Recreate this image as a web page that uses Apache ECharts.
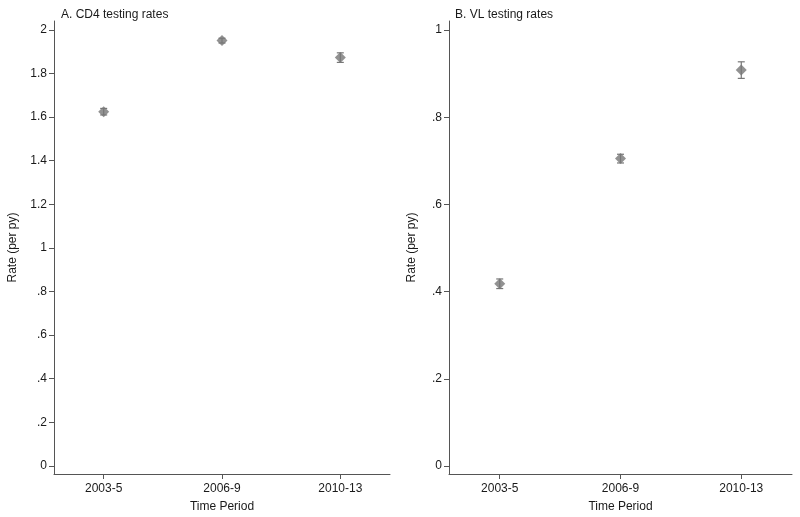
<!DOCTYPE html>
<html>
<head>
<meta charset="utf-8">
<script src="https://cdn.jsdelivr.net/npm/echarts@6/dist/echarts.min.js"></script>
<style>
  html, body { margin: 0; padding: 0; background: #fff; }
  #chart { width: 800px; height: 517px; }
</style>
</head>
<body>
<div id="chart"></div>
<script>
// categories (x positions 1,2,3)
var periods = ["2003-5", "2006-9", "2010-13"];

// A. CD4 testing rates (per py) with 95% CI
var cd4Rate = [1.625, 1.951, 1.873];
var cd4Low = [1.610, 1.940, 1.851];
var cd4High = [1.640, 1.962, 1.895];

// B. VL testing rates (per py) with 95% CI
var vlRate = [0.418, 0.705, 0.908];
var vlLow = [0.407, 0.695, 0.889];
var vlHigh = [0.429, 0.715, 0.927];

// tick labels
var cd4Ticks = [0, 0.2, 0.4, 0.6, 0.8, 1, 1.2, 1.4, 1.6, 1.8, 2];
var vlTicks = [0, 0.2, 0.4, 0.6, 0.8, 1];
var xTicks = [1, 2, 3];

var fontFamily = '"Liberation Sans", Arial, Helvetica, sans-serif';
var axisColor = "#555";
var textColor = "#1a1a1a";
var markColor = "#777";

function fmtY(v) {
    var s = String(+v.toFixed(1));
    return s.replace(/^0\./, ".");
}

function points(vals) {
    return vals.map(function (v, i) { return [i + 1, v]; });
}

function bars(lo, hi) {
    return lo.map(function (v, i) { return [i + 1, v, hi[i]]; });
}

function errorBar(params, api) {
    var x = api.value(0);
    var p1 = api.coord([x, api.value(1)]);
    var p2 = api.coord([x, api.value(2)]);
    var hw = 3.5;
    var st = { stroke: markColor, lineWidth: 1.2 };
    return {
        type: "group",
        children: [
            { type: "line", shape: { x1: p1[0], y1: p1[1], x2: p2[0], y2: p2[1] }, style: st },
            { type: "line", shape: { x1: p1[0] - hw, y1: p1[1], x2: p1[0] + hw, y2: p1[1] }, style: st },
            { type: "line", shape: { x1: p2[0] - hw, y1: p2[1], x2: p2[0] + hw, y2: p2[1] }, style: st }
        ]
    };
}

function xAxis(idx) {
    return {
        type: "value",
        gridIndex: idx,
        min: 0.58,
        max: 3.42,
        name: "Time Period",
        nameLocation: "middle",
        nameGap: 27,
        nameTextStyle: { color: textColor, fontSize: 12, fontFamily: fontFamily },
        axisLine: { show: true, onZero: false, lineStyle: { color: axisColor, width: 1 } },
        axisTick: { show: true, length: 5, customValues: xTicks, lineStyle: { color: axisColor } },
        axisLabel: {
            customValues: xTicks,
            margin: 9,
            color: textColor,
            fontSize: 12,
            fontFamily: fontFamily,
            formatter: function (v) { return periods[Math.round(v) - 1]; }
        },
        splitLine: { show: false }
    };
}

function yAxis(idx, min, max, ticks, gap) {
    return {
        type: "value",
        gridIndex: idx,
        min: min,
        max: max,
        name: "Rate (per py)",
        nameLocation: "middle",
        nameGap: gap,
        nameTextStyle: { color: textColor, fontSize: 12, fontFamily: fontFamily },
        axisLine: { show: true, onZero: false, lineStyle: { color: axisColor, width: 1 } },
        axisTick: { show: true, length: 5, customValues: ticks, lineStyle: { color: axisColor } },
        axisLabel: {
            customValues: ticks,
            margin: 7,
            color: textColor,
            fontSize: 12,
            fontFamily: fontFamily,
            formatter: fmtY
        },
        splitLine: { show: false }
    };
}

var chart = echarts.init(document.getElementById("chart"));
chart.setOption({
    backgroundColor: "#fff",
    animation: false,
    title: [
        { text: "A. CD4 testing rates", left: 56, top: 4, textStyle: { fontSize: 12, fontWeight: "normal", color: textColor, fontFamily: fontFamily } },
        { text: "B. VL testing rates", left: 450, top: 4, textStyle: { fontSize: 12, fontWeight: "normal", color: textColor, fontFamily: fontFamily } }
    ],
    grid: [
        { left: 54, width: 336, top: 21, bottom: 43, outerBoundsMode: "none" },
        { left: 449, width: 343, top: 21, bottom: 43, outerBoundsMode: "none" }
    ],
    xAxis: [xAxis(0), xAxis(1)],
    yAxis: [
        yAxis(0, -0.037, 2.041, cd4Ticks, 35),
        yAxis(1, -0.0183, 1.0206, vlTicks, 31)
    ],
    series: [
        { type: "custom", xAxisIndex: 0, yAxisIndex: 0, data: bars(cd4Low, cd4High), renderItem: errorBar, z: 2 },
        { type: "scatter", xAxisIndex: 0, yAxisIndex: 0, data: points(cd4Rate), symbol: "diamond", symbolSize: 11, itemStyle: { color: markColor }, z: 3 },
        { type: "custom", xAxisIndex: 1, yAxisIndex: 1, data: bars(vlLow, vlHigh), renderItem: errorBar, z: 2 },
        { type: "scatter", xAxisIndex: 1, yAxisIndex: 1, data: points(vlRate), symbol: "diamond", symbolSize: 11, itemStyle: { color: markColor }, z: 3 }
    ]
});
</script>
</body>
</html>
